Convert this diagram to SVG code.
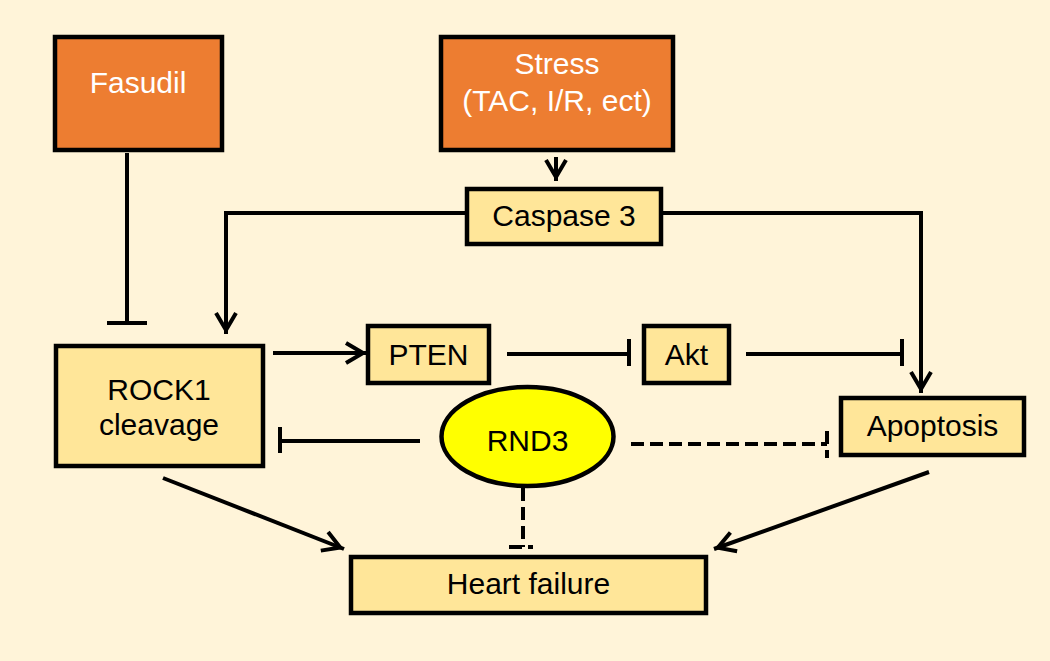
<svg xmlns="http://www.w3.org/2000/svg" width="1050" height="661" viewBox="0 0 1050 661">
  <style>
    .box { fill: #FFE699; stroke: #000; stroke-width: 4.5; }
    .obox { fill: #ED7D31; stroke: #000; stroke-width: 4.5; }
    .t { font-family: "Liberation Sans", Arial, sans-serif; font-size: 30px; fill: #000; text-anchor: middle; }
    .tw { font-family: "Liberation Sans", Arial, sans-serif; font-size: 30px; fill: #fff; text-anchor: middle; }
    .ln { fill: none; stroke: #000; stroke-width: 4; }
    .dash { fill: none; stroke: #000; stroke-width: 4; stroke-dasharray: 13 6; }
  </style>
  <defs>
    <marker id="arrow" markerUnits="userSpaceOnUse" markerWidth="26" markerHeight="26" viewBox="-24 -13 26 26" refX="0" refY="0" orient="auto" overflow="visible">
      <path d="M-21,-10 L-4,0 L-21,10" fill="none" stroke="#000" stroke-width="4" stroke-linejoin="miter"/>
    </marker>
  </defs>
  <rect x="0" y="0" width="1050" height="661" fill="#FFF4D9"/>

  <g id="connectors">
    <!-- Stress to Caspase 3 -->
    <line class="ln" x1="556" y1="157" x2="556" y2="181" marker-end="url(#arrow)"/>
    <!-- Caspase 3 to ROCK1 -->
    <polyline class="ln" points="467,213 226,213 226,334" marker-end="url(#arrow)"/>
    <!-- Caspase 3 to Apoptosis -->
    <polyline class="ln" points="662,213 921,213 921,393" marker-end="url(#arrow)"/>
    <!-- Fasudil inhibits ROCK1 -->
    <line class="ln" x1="127" y1="153" x2="127" y2="323"/>
    <line class="ln" x1="107" y1="323" x2="147" y2="323"/>
    <!-- ROCK1 to PTEN -->
    <line class="ln" x1="273" y1="353" x2="367" y2="353" marker-end="url(#arrow)"/>
    <!-- PTEN inhibits Akt -->
    <line class="ln" x1="507" y1="354" x2="629" y2="354"/>
    <line class="ln" x1="629" y1="339" x2="629" y2="366"/>
    <!-- Akt inhibits Apoptosis -->
    <line class="ln" x1="746" y1="354" x2="902" y2="354"/>
    <line class="ln" x1="902" y1="339" x2="902" y2="366"/>
    <!-- RND3 inhibits ROCK1 -->
    <line class="ln" x1="420" y1="441" x2="280" y2="441"/>
    <line class="ln" x1="280" y1="427" x2="280" y2="453"/>
    <!-- RND3 dashed inhibits Apoptosis -->
    <line class="dash" x1="631" y1="444" x2="827" y2="444"/>
    <line class="dash" x1="827" y1="431" x2="827" y2="458"/>
    <!-- RND3 dashed inhibits Heart failure -->
    <line class="dash" x1="523" y1="488" x2="523" y2="547"/>
    <line class="dash" x1="509" y1="547" x2="533" y2="547"/>
    <!-- ROCK1 to Heart failure -->
    <line class="ln" x1="163" y1="478" x2="344" y2="549" marker-end="url(#arrow)"/>
    <!-- Apoptosis to Heart failure -->
    <line class="ln" x1="929" y1="472" x2="714" y2="549" marker-end="url(#arrow)"/>
  </g>

  <g id="fasudil">
    <rect class="obox" x="55" y="37" width="167" height="113"/>
    <text class="tw" x="138" y="93">Fasudil</text>
  </g>
  <g id="stress">
    <rect class="obox" x="441" y="37" width="232" height="113"/>
    <text class="tw" x="557" y="74">Stress</text>
    <text class="tw" x="557" y="111">(TAC, I/R, ect)</text>
  </g>
  <g id="caspase3">
    <rect class="box" x="467" y="189" width="194" height="55"/>
    <text class="t" x="564" y="226">Caspase 3</text>
  </g>
  <g id="rock1">
    <rect class="box" x="56" y="346" width="207" height="120"/>
    <text class="t" x="159" y="400">ROCK1</text>
    <text class="t" x="159" y="435">cleavage</text>
  </g>
  <g id="pten">
    <rect class="box" x="368" y="326" width="121" height="57"/>
    <text class="t" x="428.5" y="365">PTEN</text>
  </g>
  <g id="akt">
    <rect class="box" x="644" y="326" width="85" height="57"/>
    <text class="t" x="686.5" y="365">Akt</text>
  </g>
  <g id="apoptosis">
    <rect class="box" x="841" y="398" width="183" height="57"/>
    <text class="t" x="932.5" y="436">Apoptosis</text>
  </g>
  <g id="rnd3">
    <ellipse cx="527.5" cy="436.5" rx="86" ry="49.5" fill="#FFFF00" stroke="#000" stroke-width="4.5"/>
    <text class="t" x="527.5" y="451">RND3</text>
  </g>
  <g id="heart-failure">
    <rect class="box" x="351" y="557" width="355" height="56"/>
    <text class="t" x="528.5" y="594">Heart failure</text>
  </g>
</svg>
